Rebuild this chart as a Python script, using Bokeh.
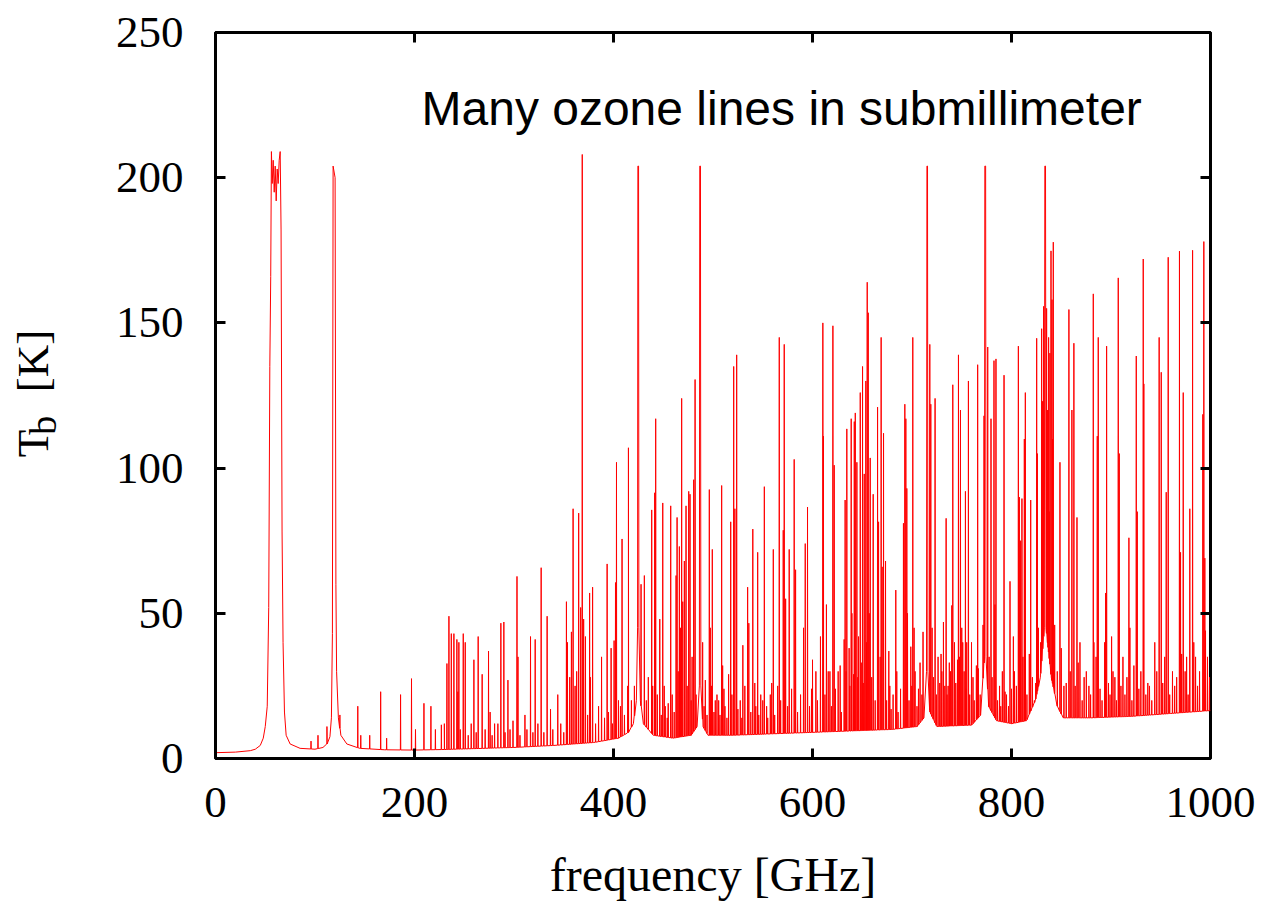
import numpy as np
from bokeh.plotting import figure
from bokeh.layouts import row
from bokeh.models import Label, LinearAxis, Range1d, FixedTicker, CustomJSTickFormatter
from bokeh.embed import file_html
from bokeh.resources import INLINE

# ---- data ----
x_ticks = [0, 200, 400, 600, 800, 1000]
y_ticks = [0, 50, 100, 150, 200, 250]

# continuum incl. the broad oxygen features
cont_freq = [0, 20, 35, 40, 45, 48, 50, 52, 53.5, 54.6, 55.5, 56.2, 57, 58, 59, 60, 61, 62, 63, 64,
             65, 65.9, 66.9, 67.9, 69.3, 71, 75, 85, 100, 108, 112, 115, 116.5, 117.5, 118.2, 120.2,
             121, 121.7, 123.5, 126, 132, 145, 170, 200, 230, 260, 300, 340, 380, 405, 415, 420, 423,
             424.2, 424.5, 425.2, 425.5, 427, 430, 440, 460, 478, 484, 486.3, 486.7, 487.4, 487.8, 490,
             495, 520, 560, 600, 640, 680, 705, 712, 714.6, 715.0, 715.6, 716.0, 718, 725, 760, 769,
             772.8, 773.2, 774.0, 774.4, 777, 785, 800, 815, 824, 829, 833.0, 833.5, 834.2, 834.7,
             840, 846, 852, 880, 920, 960, 1000]
cont_tb = [2.0, 2.2, 2.7, 3.2, 4.5, 7, 11, 18, 52, 135, 166, 209, 198, 206, 195, 204, 192, 203, 198, 206,
           209, 182, 78, 40, 16, 8, 5, 3.5, 3.2, 3.8, 5, 7.5, 14, 43, 204, 200,
           60, 30, 14, 8, 5, 3.5, 3.0, 2.9, 3.1, 3.4, 3.8, 4.5, 5.5, 7, 9, 12, 20,
           45, 204, 204, 45, 20, 12, 8, 7, 8, 11, 25, 204, 204, 25, 11,
           8, 8, 8.5, 9, 9.5, 10, 11, 14, 30, 204, 204, 30, 16, 11, 11.5, 15,
           35, 204, 204, 35, 18, 13, 12, 13, 20, 28, 45, 204, 204, 45,
           28, 18, 14, 14, 14.5, 15.5, 16.5]

# narrow (mostly ozone) lines: centre frequency [GHz] and peak brightness [K]
line_freq = [96, 103, 112, 125, 143, 146, 155, 166, 172, 186, 197, 201, 209.5, 216.5, 221, 227, 230,
             232.6, 234.6, 237, 239.6, 242.6, 243.6, 244.6, 246, 249, 251, 254, 257, 259.7, 262, 264,
             268, 271, 274.4, 276, 278, 280.5, 283.8, 286.8, 289.8, 291, 293.9, 296, 299, 303, 304,
             306, 311, 313, 316.6, 319, 321.3, 324, 327.3, 330, 333.3, 336.7, 339, 344, 347, 350,
             352.7, 353.7, 356, 357.7, 359.4, 361.4, 363, 365, 367, 368.6, 370, 371.8, 374, 376,
             376.8, 379, 382, 385, 388, 391, 393.6, 395, 397.6, 399, 400.6, 402, 403, 405, 407,
             408.6, 411, 414.3, 415, 418, 421,
             427.7, 431, 433, 435, 438.4, 439.4, 441.4, 442.4, 444, 446.5, 448, 449.5, 451, 452,
             454, 455, 457.5, 459, 461, 462.9, 463.9, 465, 466.2, 467.2, 468.5, 469.6, 471.2,
             472.9, 474, 475.6, 476.9, 478, 479, 480.6, 482, 483,
             489.6, 491, 492.3, 494, 496.3, 497.3, 498.5, 499.3, 501, 502.3, 504, 505.7, 507,
             508.7, 509.7, 511, 512, 514, 515.7, 517.8, 519, 520.8, 522, 523.8, 525, 527.4, 529,
             530, 532, 534.8, 536, 538, 540, 542, 543, 544.9, 546, 548, 550, 551.6, 553.9, 555,
             557.6, 559, 560.6, 562, 565, 566.6, 568, 570.6, 571.6, 573, 575, 576.6, 579, 581.6,
             583, 585, 588, 591, 592.7, 595, 597, 599, 600, 603.4, 605,
             608, 610.4, 611, 612.5, 614, 615.8, 617.5, 619, 620.5, 621.8, 623, 625.8, 627.8, 629,
             631.8, 632.8, 633.8, 634.5, 636.8, 637.5, 638.9, 639.6, 641.3, 642, 643, 644.6, 645.5,
             646.3, 648, 649, 650.3, 651, 652, 653.6, 654.2, 655, 656, 657, 658, 659.5, 661, 663,
             665.4, 666.4, 668, 669, 670, 671.4, 673.4, 674.5, 676.7, 677.7, 679, 681, 683.7,
             684.7, 686, 688.5, 691.4, 692.8, 693.8, 694.8, 695.5, 697, 698.8, 699.8, 700.8, 702.1,
             703.1, 705, 706.5, 708.1, 710, 711.1,
             717.9, 718.9, 720.2, 721.5, 723.2, 724.5, 726.2, 727.9, 729.2, 730, 731.6, 733, 734.3,
             735.2, 736.3, 737.5, 738.7, 740, 741, 742.7, 744, 745.7, 746.7, 747.7, 748.7, 750,
             751, 752.4, 753.7, 754.3, 755, 756.7, 758, 759.8, 761.3, 762.5, 764.7, 765, 766,
             766.7, 768.5, 771.4, 772.4, 776.1, 777.5, 779.4, 780.5, 782.4, 783.4, 784.4, 786,
             788, 789.2, 790.8, 792.5, 793.5, 795, 797, 798.5, 800, 801.9, 803, 804.9, 806.9,
             807.9, 809.2, 810.5, 811.5, 812.9, 813.9, 815.5, 817.9, 819.3, 821, 823, 824.3,
             825.3, 826, 827, 829.3, 830.3, 831.3, 832.3, 835.3, 836.3, 836.8, 837.3, 838, 838.6,
             839.7, 840.7, 841.3, 842, 843.4, 846, 848.7, 850, 852.7, 855, 857.7, 859, 860.7,
             862.7, 864, 865.8, 867, 868.8, 871, 873, 875.2, 877.8, 879.5, 882.2, 882.8, 885,
             886.2, 887.2, 889, 891, 893.6, 894.6, 895.6, 897.5, 899, 900.6, 902, 903.9, 905.5,
             907.3, 908.3, 910, 912, 914, 916, 918, 919, 921, 923, 925.4, 926.4, 928, 930, 932.4,
             933, 935, 937, 938.7, 941, 944, 946, 948.4, 950.5, 952, 954, 955.5, 957.5, 959,
             961.8, 964, 966, 968.8, 969.9, 971, 972.6, 974.5, 976, 977.5, 979.2, 982, 983.2,
             985, 987, 989, 992.3, 993.3, 994.3, 995, 997, 999]
line_tb = [6, 8, 11, 15, 18, 8, 8, 23, 7, 22, 27.5, 10, 19, 18, 10, 11.6, 12,
           32.7, 49, 43, 43, 41, 23, 40, 10, 43, 40, 8, 12, 34, 9, 42,
           29, 10, 37, 16, 8, 12, 12, 46.6, 47, 9, 27, 10, 13, 62.7, 35,
           8, 15, 10, 42, 9, 41, 12, 65.7, 9, 49, 17, 10, 22, 12, 9,
           54, 40, 28, 43.6, 86, 25, 30, 84.5, 52, 208, 48, 42, 15, 57,
           28, 59, 12, 18, 35, 14, 67, 16, 38, 12, 40.6, 60.6, 102, 20, 18,
           75.6, 15, 25, 107, 20, 25,
           60, 63, 20, 28, 85.6, 25, 91.5, 117, 22, 48, 15, 88, 25, 18,
           14, 19, 87, 22, 16, 63, 83, 30, 73, 45, 124, 54, 68,
           87, 25, 92, 91, 20, 35, 96, 130.5, 22,
           40, 18, 27, 15, 92.6, 45, 25, 72, 16, 20, 22, 20, 15,
           94, 32, 24, 18, 14, 29, 81.5, 22, 135, 86, 139, 17, 20, 14,
           39, 25, 59, 46.6, 16, 79, 26, 18, 71, 15, 22, 20, 93.6, 18, 14,
           22, 26, 72, 15, 25, 145, 20, 78.6, 142.6, 55, 18, 72, 24, 103,
           65, 16, 22, 45, 74, 86.6, 18, 24, 34, 30, 20,
           42, 150, 111, 22, 53, 30, 30, 18, 149, 101, 24, 30, 32, 16,
           41, 89, 30, 113.5, 38, 25, 117, 50, 29, 116, 119, 102, 28,
           42, 126, 33, 135, 26, 98, 130, 40, 164, 153.5, 50, 103.5, 28, 91, 20,
           121, 81.5, 35, 145, 66, 112, 68, 20, 37, 25, 17, 22, 58,
           30, 16, 24, 81, 122, 117, 93, 50, 20, 38.5, 25, 145, 45,
           30, 18, 24, 33, 22, 43.6,
           142.6, 122, 45, 28, 124, 22, 35, 26, 36, 30, 47, 25, 82.7,
           22, 25, 33, 30, 52.7, 128.7, 40, 26, 34, 139, 35, 120, 45,
           40, 30, 92, 24, 40, 130, 22, 40, 28, 20, 32, 25, 135.6,
           31, 22, 46, 118, 141.7, 35, 117, 28, 137, 53, 137.6, 20,
           25, 18, 30, 132, 23, 22, 18, 61, 24, 42, 30, 25, 142,
           90, 75, 89.5, 35, 110, 126, 22, 36, 89, 28, 20, 26,
           144.7, 105, 45, 40, 148, 123, 155.7, 155, 120, 95, 145, 85, 139.6,
           174.8, 158, 110, 177.8, 46, 30, 102, 38, 25, 26, 154.6, 30, 120,
           143, 25, 83, 33, 40, 20, 28, 30, 25, 22, 160, 40, 35,
           111, 145, 24, 20, 40, 57, 142, 26, 22, 42, 30, 28, 20,
           165.5, 105, 25, 35, 22, 28, 76, 45, 20, 32, 138.6, 85, 24, 30, 172,
           129, 22, 26, 25, 20, 40, 30, 145, 133, 26, 35, 91.7, 172.6, 22,
           30, 25, 28, 174.7, 71, 36, 126, 30, 35, 22, 86, 175, 40,
           35, 25, 30, 118.5, 178, 69, 44, 35, 28]

assert len(cont_freq) == len(cont_tb)
assert len(line_freq) == len(line_tb)

# ---- assemble the spectrum polyline ----
cf = np.array(cont_freq, dtype=float)
ct = np.array(cont_tb, dtype=float)
lf = np.array(line_freq, dtype=float)
lt = np.array(line_tb, dtype=float)
foot = np.interp(lf, cf, ct)
half = 0.2
xs = np.concatenate([cf, lf - half, lf, lf + half])
ys = np.concatenate([ct, foot, lt, foot])
order = np.argsort(xs, kind="stable")
xs, ys = xs[order], ys[order]

SERIF = "Liberation Serif"
SANS = "Liberation Sans"

# ---- main plot ----
p = figure(width=1187, height=906, x_range=Range1d(0, 1000), y_range=Range1d(0, 250),
           output_backend="svg", toolbar_location=None,
           min_border_left=135, min_border_right=57, min_border_top=32, min_border_bottom=148)
p.background_fill_color = "white"
p.border_fill_color = "white"
p.outline_line_color = "black"
p.outline_line_width = 3
p.xgrid.visible = False
p.ygrid.visible = False

p.line(xs, ys, line_color="#ff0000", line_width=1)

xa = p.xaxis[0]
xa.ticker = FixedTicker(ticks=x_ticks)
ya = p.yaxis[0]
ya.ticker = FixedTicker(ticks=y_ticks)
for ax in (xa, ya):
    ax.axis_line_color = None
    ax.major_tick_in = 10
    ax.major_tick_out = 0
    ax.major_tick_line_width = 3
    ax.minor_tick_line_color = None
    ax.major_label_text_font = SERIF
    ax.major_label_text_font_size = "45px"
    ax.major_label_text_color = "black"
xa.major_label_standoff = 29
ya.major_label_standoff = 32
xa.axis_label = "frequency [GHz]"
xa.axis_label_text_font = SERIF
xa.axis_label_text_font_size = "48px"
xa.axis_label_text_font_style = "normal"
xa.axis_label_text_color = "black"
xa.axis_label_standoff = 28

# mirrored ticks on top / right
for side, ticks in (("right", y_ticks), ("above", x_ticks)):
    ax = LinearAxis(ticker=FixedTicker(ticks=ticks),
                    formatter=CustomJSTickFormatter(code="return ''"),
                    axis_line_color=None, major_tick_in=10, major_tick_out=0,
                    major_tick_line_width=3, minor_tick_line_color=None,
                    major_label_text_font_size="1px", major_label_standoff=0)
    p.add_layout(ax, side)

# annotation
p.add_layout(Label(x=206, y=650, x_units="screen", y_units="screen",
                   text="Many ozone lines in submillimeter",
                   text_font=SANS, text_font_size="48px", text_align="left",
                   text_baseline="alphabetic", text_color="black"))

# ---- narrow strip carrying the y-axis title  T_b [K] ----
q = figure(width=80, height=906, x_range=Range1d(0, 80), y_range=Range1d(0, 906),
           x_axis_type=None, y_axis_type=None, output_backend="svg", toolbar_location=None,
           min_border=0)
q.outline_line_color = None
q.xgrid.visible = False
q.ygrid.visible = False
q.background_fill_color = "white"
q.border_fill_color = "white"
q.add_layout(Label(x=32, y=376, text="T", angle=np.pi / 2,
                   text_font=SERIF, text_font_size="45px", text_align="left",
                   text_baseline="alphabetic", text_color="black"))
q.add_layout(Label(x=42, y=404, text="b", angle=np.pi / 2,
                   text_font=SERIF, text_font_size="38px", text_align="left",
                   text_baseline="alphabetic", text_color="black"))
q.add_layout(Label(x=32, y=457, text="[K]", angle=np.pi / 2,
                   text_font=SERIF, text_font_size="45px", text_align="left",
                   text_baseline="alphabetic", text_color="black"))

layout = row(q, p, spacing=0)
open("out.html", "w").write(file_html(layout, INLINE))
